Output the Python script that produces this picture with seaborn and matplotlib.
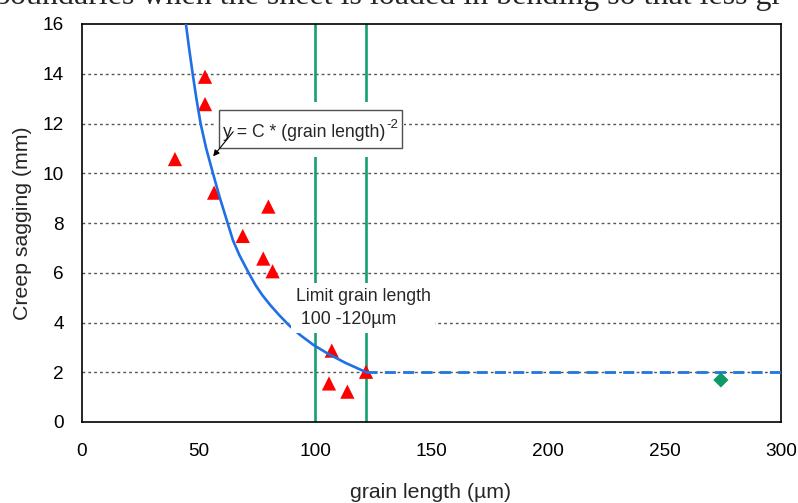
import matplotlib
matplotlib.use("Agg")
import matplotlib.pyplot as plt
from matplotlib.patches import Rectangle
import seaborn as sns
import pandas as pd

# ---- data ----
grain_length = [39.9, 52.8, 52.8, 56.7, 69.0, 80.0, 77.8, 81.8, 107.2, 106.0, 113.9, 121.9]
creep_sagging = [10.57, 13.88, 12.78, 9.22, 7.48, 8.66, 6.57, 6.06, 2.87, 1.55, 1.22, 2.02]

other_length = [274.2]
other_sagging = [1.69]

curve_length = [44.6, 46.0, 47.5, 49.1, 50.9, 53.3, 56.2, 59.2, 62.5, 64.8, 67.6,
                71.5, 74.5, 77.4, 80.8, 84.6, 88.7, 93.6, 99.3, 105.5, 113.0, 122.0]
curve_sagging = [16.0, 15.0, 14.0, 13.0, 12.0, 11.0, 10.0, 9.0, 8.0, 7.3, 6.7,
                 6.0, 5.5, 5.1, 4.7, 4.3, 3.9, 3.5, 3.1, 2.75, 2.38, 2.0]

plateau_length = [122.0, 300.0]
plateau_sagging = [2.0, 2.0]

limit_lengths = [100.0, 122.0]

x_ticks = [0, 50, 100, 150, 200, 250, 300]
y_ticks = [0, 2, 4, 6, 8, 10, 12, 14, 16]

sns.set_theme(style="white")
plt.rcParams['font.family'] = ['Liberation Sans', 'DejaVu Sans']

W, H = 798, 503
fig = plt.figure(figsize=(W / 100, H / 100), dpi=100)
ax = fig.add_axes([82 / W, 1 - 422 / H, (781 - 82) / W, (422 - 24) / H])

# gridlines
for yv in y_ticks[1:-1]:
    ax.axhline(yv, color='#555555', lw=1.0, ls=(0, (2, 2.2)), zorder=1)

# limit lines
for xv in limit_lengths:
    ax.axvline(xv, color='#14a072', lw=1.9, zorder=2)

pts = pd.DataFrame({'x': grain_length, 'y': creep_sagging})
curve = pd.DataFrame({'x': curve_length, 'y': curve_sagging})
plateau = pd.DataFrame({'x': plateau_length, 'y': plateau_sagging})
other = pd.DataFrame({'x': other_length, 'y': other_sagging})

sns.scatterplot(data=pts, x='x', y='y', marker='^', s=105, color='#ff0000',
                edgecolor='none', ax=ax, zorder=3)
sns.lineplot(data=curve, x='x', y='y', sort=False, estimator=None,
             color='#1f6fe5', lw=1.9, ax=ax, zorder=4)
sns.lineplot(data=plateau, x='x', y='y', sort=False, estimator=None,
             color='#2176e0', lw=2.0, ax=ax, zorder=4, dashes=False)
ax.lines[-1].set_dashes((4, 2.6))
sns.scatterplot(data=other, x='x', y='y', marker='D', s=60, color='#0e9a66',
                edgecolor='none', ax=ax, zorder=5)

# white area behind the equation label and its frame
ax.add_patch(Rectangle((57.0, 10.65), 81.4, 2.21, facecolor='white',
                       edgecolor='none', zorder=5))
ax.add_patch(Rectangle((58.8, 11.015), 78.4, 1.525, facecolor='white',
                       edgecolor='#505050', lw=1.0, zorder=6))
eq = ax.text(60.5, 11.62, "y = C * (grain length)", fontsize=12.7,
             ha='left', va='center', zorder=7)
ax.annotate("-2", xy=(1, 1), xycoords=eq, xytext=(0.6, 3.8),
            textcoords='offset points', fontsize=9.5, ha='left', va='top',
            zorder=7)
ax.annotate('', xy=(56.3, 10.68), xytext=(64.9, 11.67),
            arrowprops=dict(arrowstyle='-|>', color='black', lw=0.8,
                            mutation_scale=9, shrinkA=0, shrinkB=0), zorder=8)

ax.text(91.8, 4.58, "Limit grain length\n 100 -120µm", fontsize=12.8,
        ha='left', va='center', linespacing=1.5, zorder=7,
        bbox=dict(boxstyle='square,pad=0.25', fc='white', ec='none'))

ax.set_xlim(0, 300)
ax.set_ylim(0, 16)
ax.set_xticks(x_ticks)
ax.set_yticks(y_ticks)
ax.set_xticklabels([str(v) for v in x_ticks])
ax.set_yticklabels([str(v) for v in y_ticks])
ax.tick_params(axis='both', direction='out', length=5, width=1, colors='black',
               labelsize=13.7)
ax.tick_params(axis='x', pad=10.3)
ax.tick_params(axis='y', pad=8)
for sp in ax.spines.values():
    sp.set_color('black')
    sp.set_linewidth(1.2)
    sp.set_visible(True)

ax.set_xlabel("grain length (µm)", fontsize=15.3)
ax.set_ylabel("Creep sagging (mm)", fontsize=15.3)
ax.xaxis.set_label_coords(0.499, -0.153)
ax.yaxis.set_label_coords(-0.0715, 0.5)
ax.grid(False)

fig.text(-0.008, 1 - 4 / H, "boundaries when the sheet is loaded in bending so that less gr",
         fontsize=23, family='Liberation Serif', ha='left', va='baseline')

fig.savefig("out.png", dpi=100)
